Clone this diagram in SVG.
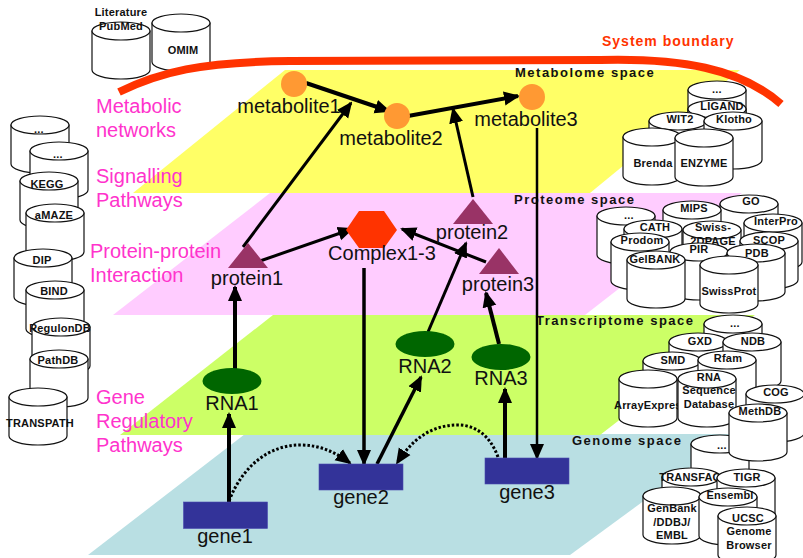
<svg xmlns="http://www.w3.org/2000/svg" xmlns:xlink="http://www.w3.org/1999/xlink" width="803" height="558" viewBox="0 0 803 558">
<style>
text{font-family:"Liberation Sans",Arial,sans-serif}
.n{font-size:20px;fill:#111;text-anchor:middle}
.p{font-size:20px;fill:#ff33cc}
.s{font-size:13px;font-weight:bold;fill:#111;letter-spacing:1.5px}
.d{font-size:11px;font-weight:bold;fill:#111;text-anchor:middle;letter-spacing:.2px}
.c{fill:#fff;stroke:#111;stroke-width:1.2}
.l{fill:none;stroke:#000;stroke-linecap:butt}
.dot{fill:none;stroke:#000;stroke-width:3;stroke-dasharray:2.5 2}
.tri{fill:#993366}.rna{fill:#006600}.gene{fill:#333399;stroke:#4a4ab0;stroke-width:.6}.met{fill:#ff9933}
</style>
<defs>
<marker id="a" markerUnits="userSpaceOnUse" markerWidth="17" markerHeight="16" refX="14" refY="8" orient="auto"><path d="M0,1 L16,8 L0,15 Z" fill="#000"/></marker>
<g id="cyl"><path class="c" d="M0,9 V48 A29,9 0 0 0 58,48 V9 Z"/><ellipse class="c" cx="29" cy="9" rx="29" ry="9"/></g>
</defs>
<g id="planes">
<polygon points="88,555 570,555 735,434 245,434" fill="#b9dfe3"/>
<polygon points="120,435 600,435 755,315 273,315" fill="#ccff66"/>
<polygon points="113,315 585,315 742,193 270,193" fill="#ffccff"/>
<polygon points="133,193 590,193 740,70 285,70" fill="#ffff66"/>
</g>
<g id="databases">
<g id="db-pubmed"><use href="#cyl" x="92" y="22"/><text class="d" x="121" y="16">Literature</text><text class="d" x="121" y="30">PubMed</text></g>
<g id="db-omim"><use href="#cyl" x="152" y="14"/><text class="d" x="183" y="54">OMIM</text></g>
<g id="db-l1"><use href="#cyl" x="11" y="116"/><text class="d" x="39" y="133">...</text></g>
<g id="db-l2"><use href="#cyl" x="30" y="142"/><text class="d" x="58" y="158">...</text></g>
<g id="db-kegg"><use href="#cyl" x="20" y="172"/><text class="d" x="47" y="188">KEGG</text></g>
<g id="db-amaze"><use href="#cyl" x="26" y="204"/><text class="d" x="54" y="219">aMAZE</text></g>
<g id="db-dip"><use href="#cyl" x="14" y="249"/><text class="d" x="42" y="264">DIP</text></g>
<g id="db-bind"><use href="#cyl" x="26" y="281"/><text class="d" x="54" y="295">BIND</text></g>
<g id="db-regulon"><use href="#cyl" x="32" y="318"/><text class="d" x="60" y="332">RegulonDB</text></g>
<g id="db-path"><use href="#cyl" x="30" y="350"/><text class="d" x="58" y="364">PathDB</text></g>
<g id="db-transpath"><use href="#cyl" x="9" y="388"/><text class="d" x="40" y="427">TRANSPATH</text></g>

<g id="db-m1"><use href="#cyl" x="688" y="81"/><text class="d" x="717" y="93">...</text></g>
<g id="db-ligand"><use href="#cyl" x="688" y="100"/><text class="d" x="722" y="110">LIGAND</text></g>
<g id="db-wit2"><use href="#cyl" x="649" y="112"/><text class="d" x="680" y="123">WIT2</text></g>
<g id="db-klotho"><use href="#cyl" x="704" y="112"/><text class="d" x="734" y="123">Klotho</text></g>
<g id="db-brenda"><use href="#cyl" x="623" y="128"/><text class="d" x="653" y="167">Brenda</text></g>
<g id="db-enzyme"><use href="#cyl" x="675" y="129"/><text class="d" x="704" y="167">ENZYME</text></g>

<g id="db-go"><use href="#cyl" x="720" y="195"/><text class="d" x="751" y="205">GO</text></g>
<g id="db-mips"><use href="#cyl" x="663" y="201"/><text class="d" x="694" y="212">MIPS</text></g>
<g id="db-p1"><use href="#cyl" x="597" y="207"/><text class="d" x="629" y="219">...</text></g>
<g id="db-interpro"><use href="#cyl" x="744" y="214"/><text class="d" x="776" y="225">InterPro</text></g>
<g id="db-cath"><use href="#cyl" x="624" y="220"/><text class="d" x="655" y="231">CATH</text></g>
<g id="db-swiss2d"><use href="#cyl" x="683" y="221"/><text class="d" x="713" y="231">Swiss-</text><text class="d" x="713" y="245">2DPAGE</text></g>
<g id="db-scop"><use href="#cyl" x="740" y="232"/><text class="d" x="769" y="244">SCOP</text></g>
<g id="db-prodom"><use href="#cyl" x="611" y="233"/><text class="d" x="642" y="244">Prodom</text></g>
<g id="db-pir"><use href="#cyl" x="670" y="243"/><text class="d" x="699" y="253">PIR</text></g>
<g id="db-pdb"><use href="#cyl" x="727" y="244"/><text class="d" x="757" y="257">PDB</text></g>
<g id="db-gelbank"><use href="#cyl" x="627" y="251"/><text class="d" x="655" y="263">GelBANK</text></g>
<g id="db-swissprot"><use href="#cyl" x="700" y="256"/><text class="d" x="729" y="295">SwissProt</text></g>

<g id="db-t1"><use href="#cyl" x="704" y="315"/><text class="d" x="735" y="327">...</text></g>
<g id="db-gxd"><use href="#cyl" x="669" y="333"/><text class="d" x="700" y="345">GXD</text></g>
<g id="db-ndb"><use href="#cyl" x="723" y="333"/><text class="d" x="753" y="345">NDB</text></g>
<g id="db-smd"><use href="#cyl" x="643" y="352"/><text class="d" x="673" y="364">SMD</text></g>
<g id="db-rfam"><use href="#cyl" x="698" y="351"/><text class="d" x="728" y="362">Rfam</text></g>
<g id="db-array"><use href="#cyl" x="619" y="370"/><text class="d" x="614" y="409" style="text-anchor:start">ArrayExpress</text></g>
<g id="db-rna"><use href="#cyl" x="678" y="370"/><text class="d" x="709" y="381">RNA</text><text class="d" x="709" y="394">Sequence</text><text class="d" x="709" y="408">Database</text></g>
<g id="db-cog"><use href="#cyl" x="746" y="385"/><text class="d" x="776" y="396">COG</text></g>
<g id="db-g1"><use href="#cyl" x="691" y="435"/><text class="d" x="722" y="449">...</text></g>
<g id="db-methdb"><use href="#cyl" x="729" y="404"/><text class="d" x="760" y="415">MethDB</text></g>
<g id="db-transfac"><use href="#cyl" x="662" y="468"/><text class="d" x="690" y="481">TRANSFAC</text></g>
<g id="db-tigr"><use href="#cyl" x="717" y="469"/><text class="d" x="747" y="481">TIGR</text></g>
<g id="db-genbank"><use href="#cyl" x="643" y="487"/><text class="d" x="672" y="512">GenBank</text><text class="d" x="672" y="526">/DDBJ/</text><text class="d" x="672" y="539">EMBL</text></g>
<g id="db-ensembl"><use href="#cyl" x="699" y="488"/><text class="d" x="730" y="499">Ensembl</text></g>
<g id="db-ucsc"><use href="#cyl" x="718" y="507"/><text class="d" x="748" y="522">UCSC</text><text class="d" x="749" y="535">Genome</text><text class="d" x="749" y="549">Browser</text></g>
</g>
<path id="system-boundary" d="M119,92 C160,72 200,62 290,61 L600,60 C680,58 740,68 781,104" fill="none" stroke="#ff3300" stroke-width="8"/>
<g id="labels">
<text x="602" y="46" font-size="14" font-weight="bold" fill="#ff3300" letter-spacing="1">System boundary</text>
<text class="s" x="515" y="77">Metabolome space</text>
<text class="s" x="514" y="204">Proteome space</text>
<text class="s" x="536" y="325">Transcriptome space</text>
<text class="s" x="572" y="445">Genome space</text>
<text class="p" x="96" y="113">Metabolic</text><text class="p" x="96" y="137">networks</text>
<text class="p" x="96" y="183">Signalling</text><text class="p" x="96" y="207">Pathways</text>
<text class="p" x="90" y="258">Protein-protein</text><text class="p" x="90" y="282">Interaction</text>
<text class="p" x="96" y="404">Gene</text><text class="p" x="96" y="428">Regulatory</text><text class="p" x="96" y="452">Pathways</text>
</g>
<g id="connectors">
<line class="l" stroke-width="4" x1="306" y1="83" x2="389" y2="111" marker-end="url(#a)"/>
<line class="l" stroke-width="4" x1="408" y1="116" x2="518" y2="96" marker-end="url(#a)"/>
<line class="l" stroke-width="3" x1="473" y1="197" x2="453" y2="109" marker-end="url(#a)"/>
<line class="l" stroke-width="3" x1="243" y1="247" x2="351" y2="103" marker-end="url(#a)"/>
<line class="l" stroke-width="3" x1="260" y1="261" x2="352" y2="229" marker-end="url(#a)"/>
<line class="l" stroke-width="3" x1="486" y1="262" x2="402" y2="229" marker-end="url(#a)"/>
<line class="l" stroke-width="3" x1="428" y1="332" x2="466" y2="243" marker-end="url(#a)"/>
<line class="l" stroke-width="4" x1="499" y1="344" x2="486" y2="293" marker-end="url(#a)"/>
<line class="l" stroke-width="4" x1="235" y1="369" x2="235" y2="287" marker-end="url(#a)"/>
<line class="l" stroke-width="4" x1="229" y1="502" x2="229" y2="414" marker-end="url(#a)"/>
<line class="l" stroke-width="3.5" x1="364" y1="268" x2="364" y2="464" marker-end="url(#a)"/>
<line class="l" stroke-width="3.5" x1="377" y1="464" x2="421" y2="377" marker-end="url(#a)"/>
<line class="l" stroke-width="4" x1="505" y1="458" x2="505" y2="389" marker-end="url(#a)"/>
<line class="l" stroke-width="2.5" x1="537" y1="128" x2="537" y2="458" marker-end="url(#a)"/>
<path class="dot" d="M229,501 C243,465 270,445 300,445 C320,445 335,452 350,463" marker-end="url(#a)"/>
<path class="dot" d="M498,457 C490,435 475,425 458,425 C430,425 412,440 397,463" marker-end="url(#a)"/>
</g>
<g id="metabolite1"><circle class="met" cx="294" cy="84" r="13"/><text class="n" x="289" y="113">metabolite1</text></g>
<g id="metabolite2"><circle class="met" cx="397" cy="116" r="13"/><text class="n" x="391" y="145">metabolite2</text></g>
<g id="metabolite3"><circle class="met" cx="532" cy="97" r="13"/><text class="n" x="526" y="126">metabolite3</text></g>
<g id="complex"><polygon points="346,230 359,211 384,211 397,230 384,248 359,248" fill="#ff3300"/><text class="n" x="382" y="260">Complex1-3</text></g>
<g id="protein1"><polygon class="tri" points="248,243 268,268 228,268"/><text class="n" x="247" y="285">protein1</text></g>
<g id="protein2"><polygon class="tri" points="473,199 493,224 453,224"/><text class="n" x="472" y="239">protein2</text></g>
<g id="protein3"><polygon class="tri" points="499,248 519,274 479,274"/><text class="n" x="498" y="291">protein3</text></g>
<g id="rna1"><ellipse class="rna" cx="232" cy="381" rx="29.5" ry="13"/><text class="n" x="232" y="410">RNA1</text></g>
<g id="rna2"><ellipse class="rna" cx="425" cy="344" rx="29.5" ry="13"/><text class="n" x="425" y="373">RNA2</text></g>
<g id="rna3"><ellipse class="rna" cx="501" cy="357" rx="29.5" ry="13"/><text class="n" x="501" y="385">RNA3</text></g>
<g id="gene1"><rect class="gene" x="183.500" y="502" width="84" height="26.500"/><text class="n" x="225" y="543">gene1</text></g>
<g id="gene2"><rect class="gene" x="319" y="464" width="84" height="26"/><text class="n" x="361" y="504">gene2</text></g>
<g id="gene3"><rect class="gene" x="485" y="458" width="84" height="26"/><text class="n" x="527" y="499">gene3</text></g>
</svg>
